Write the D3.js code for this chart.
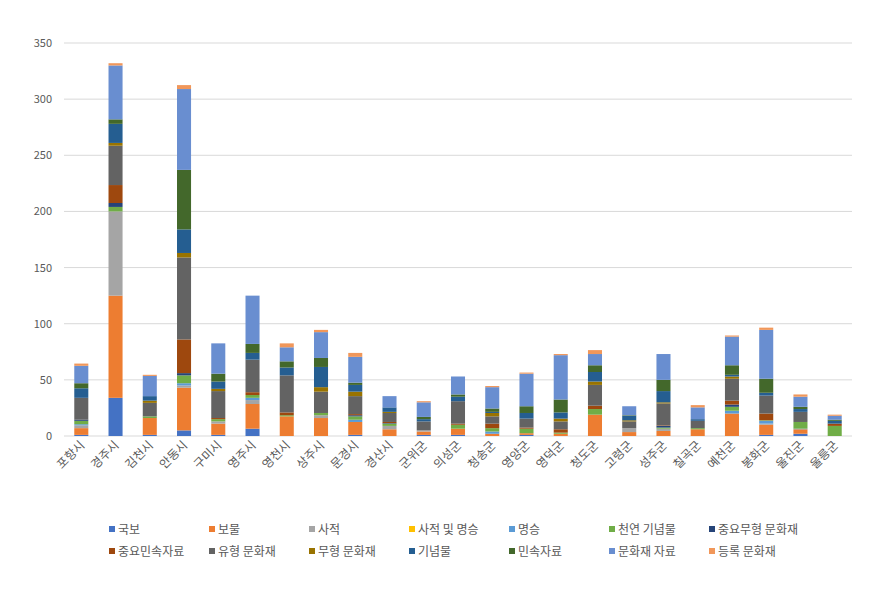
<!DOCTYPE html>
<html><head><meta charset="utf-8">
<script src="https://cdn.jsdelivr.net/npm/d3@7"></script>
<style>body{margin:0;background:#fff;font-family:"Noto Sans CJK KR","Noto Sans",sans-serif;}</style>
</head><body><svg id="c" width="890" height="600"></svg>
<script>
const categories = ["포항시","경주시","김천시","안동시","구미시","영주시","영천시","상주시","문경시","경산시","군위군","의성군","청송군","영양군","영덕군","청도군","고령군","성주군","칠곡군","예천군","봉화군","울진군","울릉군"];
const seriesNames = ["국보","보물","사적","사적 및 명승","명승","천연 기념물","중요무형 문화재","중요민속자료","유형 문화재","무형 문화재","기념물","민속자료","문화재 자료","등록 문화재"];
const colors = ["#4472C4","#ED7D31","#A5A5A5","#FFC000","#5B9BD5","#70AD47","#264478","#9E480E","#636363","#997300","#255E91","#43682B","#698ED0","#F1975A"];
const s_국보 =        [1,34,1,5,1,6.5,0,0,1,0,1,1,0,1,0,0,0,0,0,0,1,2,0];
const s_보물 =        [6,91,15,38,10,22,17.5,16,11.5,6,3,5.5,2,1.5,2,19,3.5,4.5,6,20,9,4,0];
const s_사적 =        [2.5,75,0,2,2,3.5,0,2.5,0,3,1,0,0,0,0,0,3.5,2,0,0,1,0,0];
const s_사적및명승 =  [0,0,0,0,0,0,0,0,0,0,0,0,0,0,0,0,0,0,0,0,0,0,0];
const s_명승 =        [1,0,0,2,0,2,0,0,2,0,0,0,2,0,0,0,0,0,0,2.5,2.5,0.5,0];
const s_천연기념물 =  [3,4,1.5,7,2,2.5,1,2,3,2,0,3.5,3,4,1,5,0,1,1,3.5,0.5,6,9];
const s_중요무형 =    [1,3.5,0,2,0,0,0,0,1,0.5,0,0,0,0,0,0,0,1.5,0,2,0,0,0];
const s_중요민속 =    [0,16,0,30,1,2.5,2.5,0,1,1,0,1,4,1,3,3,0,0.5,0,3.5,6,0,2];
const s_유형 =        [19.5,35,12,73,24,29,33,19,16,8,8,20,6.5,8,7,18.5,6,19.5,6.5,19.5,16,9,0];
const s_무형 =        [0,2.5,2,4,2,0,0,4,4,1,0,0,3,0,2.5,3,1,1,0,2,0,0,0];
const s_기념물 =      [8.5,17,4,21,6.5,6,7,18,6,4,2,4,1,5,5.5,8.5,4,10,1.5,1.5,2.5,2.5,2.5];
const s_민속자료 =    [4.5,4,0,53,7,8,5.5,8,2,0,2,2,3,6,11.5,6,0.5,10,0,8.5,12.5,2,1];
const s_문화재자료 =  [15.5,48,18,72,27,43,12.5,23,23,10,13,16,19,29,39.5,10,8,23,10.5,25.5,43.5,9,3.5];
const s_등록 =        [2,2,1,3.5,0,0,3.5,2,3.5,0,1,0,1,1,1,3.5,0,0,2,1,2,2,1];
const seriesValues = [s_국보,s_보물,s_사적,s_사적및명승,s_명승,s_천연기념물,s_중요무형,s_중요민속,s_유형,s_무형,s_기념물,s_민속자료,s_문화재자료,s_등록];
const yTicks = [0,50,100,150,200,250,300,350];

const rows = categories.map((c,i)=>{const r={cat:c};seriesNames.forEach((s,j)=>r[s]=seriesValues[j][i]);return r;});
const stack = d3.stack().keys(seriesNames)(rows);

const svg = d3.select("#c");
const x = d3.scaleBand().domain(categories).range([64,852]).paddingInner(0.59).paddingOuter(0.3);
const y = d3.scaleLinear().domain([0,350]).range([436,43]);

const g = svg.append("g");
g.selectAll("line.grid").data(yTicks).join("line")
 .attr("x1",64).attr("x2",852).attr("y1",d=>y(d)).attr("y2",d=>y(d))
 .attr("stroke","#d9d9d9").attr("stroke-width",1);
g.selectAll("text.yt").data(yTicks).join("text")
 .attr("x",52).attr("y",d=>y(d)+4).attr("text-anchor","end")
 .attr("font-size",11).attr("fill","#595959").text(d=>d);

stack.forEach((layer,j)=>{
  g.append("g").attr("fill",colors[j]).selectAll("rect").data(layer).join("rect")
   .attr("x",d=>x(d.data.cat)).attr("width",x.bandwidth())
   .attr("y",d=>y(d[1])).attr("height",d=>Math.max(0,y(d[0])-y(d[1])));
});

g.selectAll("text.xt").data(categories).join("text")
 .attr("transform",d=>`translate(${x(d)+x.bandwidth()/2+4},${446}) rotate(-45)`)
 .attr("text-anchor","end").attr("font-size",12).attr("fill","#595959").text(d=>d);

const leg = svg.append("g");
seriesNames.forEach((s,j)=>{
  const col=j%7,row=Math.floor(j/7);
  const lx=109+col*100, ly=530+row*22;
  leg.append("rect").attr("x",lx).attr("y",ly-4).attr("width",6).attr("height",6).attr("fill",colors[j]);
  leg.append("text").attr("x",lx+9).attr("y",ly+4).attr("font-size",12).attr("fill","#595959").text(s);
});
</script></body></html>
